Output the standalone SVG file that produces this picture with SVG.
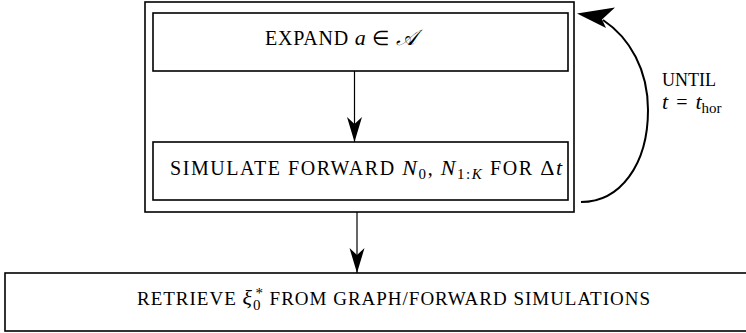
<svg xmlns="http://www.w3.org/2000/svg" width="746" height="333" viewBox="0 0 746 333">
  <style>
    .box { fill: #fff; stroke: #000; stroke-width: 1.6; }
    .outer { fill: none; stroke: #000; stroke-width: 1.6; }
    .lbl { font-family: "Liberation Serif", "Times New Roman", serif; font-size: 20px; fill: #000; }
    .it { font-style: italic; }
    .m { font-size: 22px; }
    .sub { font-size: 15px; }
    .edge { fill: none; stroke: #000; stroke-width: 1.2; }
    .loop { fill: none; stroke: #000; stroke-width: 2; }
  </style>
  <defs>
    <marker id="stealth" markerUnits="userSpaceOnUse" viewBox="-26 -8 27 16" refX="0" refY="0" markerWidth="27" markerHeight="16" orient="auto">
      <path d="M0,0 L-25,-7.5 L-18,0 L-25,7.5 Z" fill="#000"/>
    </marker>
  </defs>

  <!-- loop container -->
  <g id="loop-frame">
    <rect class="outer" x="145" y="2" width="429" height="210"/>
  </g>

  <g id="expand">
    <rect class="box" x="153" y="13" width="415" height="58"/>
    <text class="lbl" x="265" y="45" textLength="152" lengthAdjust="spacing">EXPAND <tspan class="it m">a</tspan> ∈ <tspan class="it m">𝒜</tspan></text>
  </g>

  <g id="simulate">
    <rect class="box" x="153" y="142" width="415" height="58"/>
    <text class="lbl" x="170" y="175" textLength="392" lengthAdjust="spacing">SIMULATE FORWARD <tspan class="it m">N</tspan><tspan class="sub" dy="4">0</tspan><tspan dy="-4">, </tspan><tspan class="it m">N</tspan><tspan class="sub" dy="4">1:<tspan class="it">K</tspan></tspan><tspan dy="-4"> FOR </tspan><tspan class="m">Δ</tspan><tspan class="it m">t</tspan></text>
  </g>

  <g id="retrieve">
    <rect class="box" x="5" y="273" width="745" height="58"/>
    <text class="lbl" x="137" y="305" style="font-size:19px" textLength="513" lengthAdjust="spacing">RETRIEVE <tspan class="it m">ξ</tspan><tspan class="sub" dy="5">0</tspan><tspan class="sub" dx="-6" dy="-12">*</tspan><tspan dy="7"> FROM GRAPH/FORWARD SIMULATIONS</tspan></text>
  </g>

  <g id="loop-label">
    <text class="lbl" x="662" y="86" style="font-size:18px">UNTIL</text>
    <text class="lbl" x="662" y="109"><tspan class="it m">t</tspan><tspan dx="8">=</tspan><tspan class="it m" dx="8">t</tspan><tspan class="sub" dy="4">hor</tspan></text>
  </g>

  <!-- connectors -->
  <g id="connectors">
    <path class="edge" d="M354.5,71 L354.5,142" marker-end="url(#stealth)"/>
    <path class="edge" d="M357,212 L357,273" marker-end="url(#stealth)"/>
    <path class="loop" d="M581,202 C620,202 648,165 648,110 C648,70 630,38 603,20"/>
    <path d="M577,13.5 L615,7.5 L602,19.5 L606,28 Z" fill="#000"/>
  </g>
</svg>
